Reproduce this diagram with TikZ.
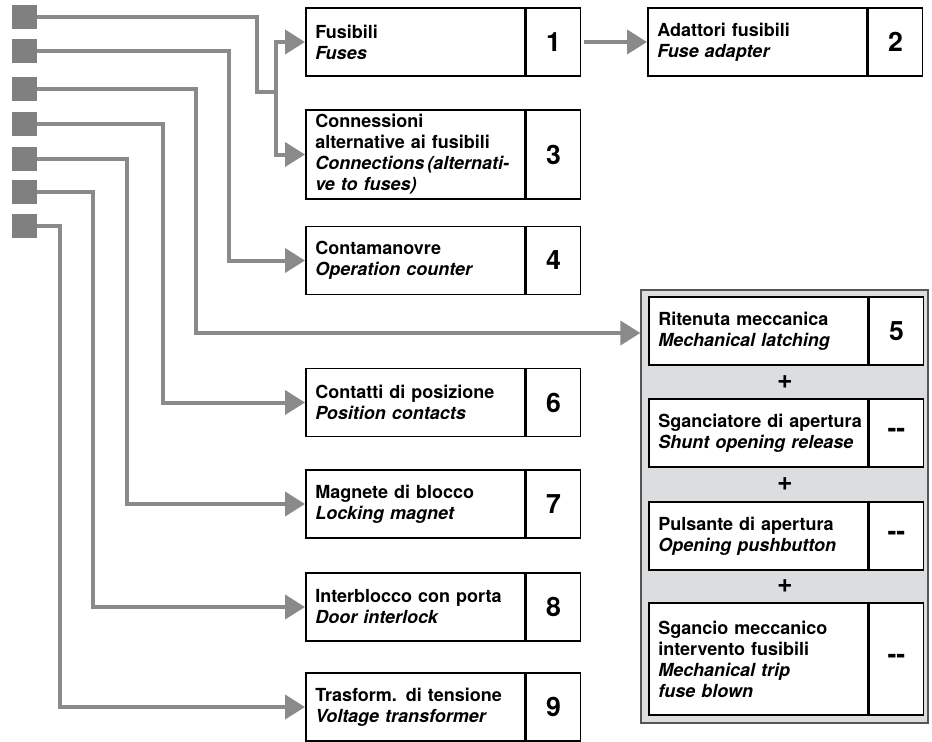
\documentclass[tikz,border=0pt]{standalone}
\usepackage{fontspec}
\setmainfont{TeX Gyre Heros}
\usetikzlibrary{arrows.meta}
\definecolor{wiregray}{RGB}{138,138,138}
\definecolor{sqgray}{RGB}{128,128,128}
\definecolor{panelgray}{RGB}{220,221,223}
\definecolor{panelline}{RGB}{85,85,85}
\begin{document}
\begin{tikzpicture}[x=0.75pt, y=-0.75pt,
  >={Triangle[length=15pt,width=18pt]},
  sq/.style={fill=sqgray, minimum width=18.75pt, minimum height=18pt, inner sep=0pt},
  wire/.style={draw=wiregray, line width=3pt},
  lblbox/.style={draw, fill=white, line width=1.4pt, anchor=west, text width=150pt, inner xsep=7pt, inner ysep=0pt,
    minimum height=51pt, align=left, font=\fontsize{13.5}{15.75}\selectfont\bfseries},
  numbox/.style={draw, fill=white, line width=1.4pt, anchor=west, minimum width=40.5pt, inner sep=0pt,
    minimum height=51pt, font=\fontsize{20}{20}\selectfont\bfseries},
  panel/.style={draw=panelline, fill=panelgray, line width=1pt, minimum width=215.25pt, minimum height=324.75pt},
  plus/.style={font=\fontsize{20}{20}\selectfont\bfseries, inner sep=0pt}]
\useasboundingbox (0,0) rectangle (932,742);

% source squares
\foreach \i/\y in {1/17,2/51,3/89,4/124,5/159,6/192,7/226}
  \node[sq] (s\i) at (24.5,\y) {};

% boxes
\node[lblbox] (f1) at (305,42) {Fusibili\\\itshape Fuses};
\node[numbox] (n1) at (f1.east) {1};
\node[lblbox] (f2) at (647,42) {Adattori fusibili\\\itshape Fuse adapter};
\node[numbox] (n2) at (f2.east) {2};
\node[lblbox, minimum height=66.75pt] (f3) at (305,154.5) {Connessioni\\alternative ai fusibili\\\itshape Connections\,(alternati-\\\itshape ve to fuses)};
\node[numbox, minimum height=66.75pt] (n3) at (f3.east) {3};
\node[lblbox] (f4) at (305,260.5) {Contamanovre\\\itshape Operation counter};
\node[numbox] (n4) at (f4.east) {4};
\node[lblbox] (f6) at (305,402.5) {Contatti di posizione\\\itshape Position contacts};
\node[numbox] (n6) at (f6.east) {6};
\node[lblbox] (f7) at (305,504) {Magnete di blocco\\\itshape Locking magnet};
\node[numbox] (n7) at (f7.east) {7};
\node[lblbox] (f8) at (305,607) {Interblocco con porta\\\itshape Door interlock};
\node[numbox] (n8) at (f8.east) {8};
\node[lblbox] (f9) at (305,707) {Trasform. di tensione\\\itshape Voltage transformer};
\node[numbox] (n9) at (f9.east) {9};

% group panel
\node[panel] (pnl) at (784.5,506.5) {};
\node[lblbox] (f5) at (648,331) {Ritenuta meccanica\\\itshape Mechanical latching};
\node[numbox] (n5) at (f5.east) {5};
\node[plus] (p1) at (785,382) {+};
\node[lblbox] (shunt) at (648,433) {\mbox{Sganciatore di apertura}\\\itshape Shunt opening release};
\node[numbox] (nshunt) at (shunt.east) {-{}-};
\node[plus] (p2) at (785,484.5) {+};
\node[lblbox] (push) at (648,536) {Pulsante di apertura\\\itshape Opening pushbutton};
\node[numbox] (npush) at (push.east) {-{}-};
\node[plus] (p3) at (785,586.5) {+};
\node[lblbox, minimum height=84pt] (trip) at (648,659) {Sgancio meccanico\\intervento fusibili\\\itshape Mechanical trip\\\itshape fuse blown};
\node[numbox, minimum height=84pt] (ntrip) at (trip.east) {-{}-};

% bends
\coordinate (k1) at (257,92);
\coordinate (bus) at (276,92);
\coordinate (v2) at (229,260.5);
\coordinate (v3) at (196,333);
\coordinate (v4) at (163,402.5);
\coordinate (v5) at (127,504);
\coordinate (v6) at (93,607);
\coordinate (v7) at (60,707);

% wires
\draw[wire] (s1.east) -| (k1) -- (bus);
\draw[wire, ->] (bus) |- (f1.west);
\draw[wire, ->] (bus) |- (f3.west);
\draw[wire, ->, shorten <=2pt] (n1.east) -- (f2.west);
\draw[wire, ->] (s2.east) -| (v2) -- (f4.west);
\draw[wire, ->] (s3.east) -| (v3) -- (v3 -| pnl.west);
\draw[wire, ->] (s4.east) -| (v4) -- (f6.west);
\draw[wire, ->] (s5.east) -| (v5) -- (f7.west);
\draw[wire, ->] (s6.east) -| (v6) -- (f8.west);
\draw[wire, ->] (s7.east) -| (v7) -- (f9.west);
\end{tikzpicture}
\end{document}
